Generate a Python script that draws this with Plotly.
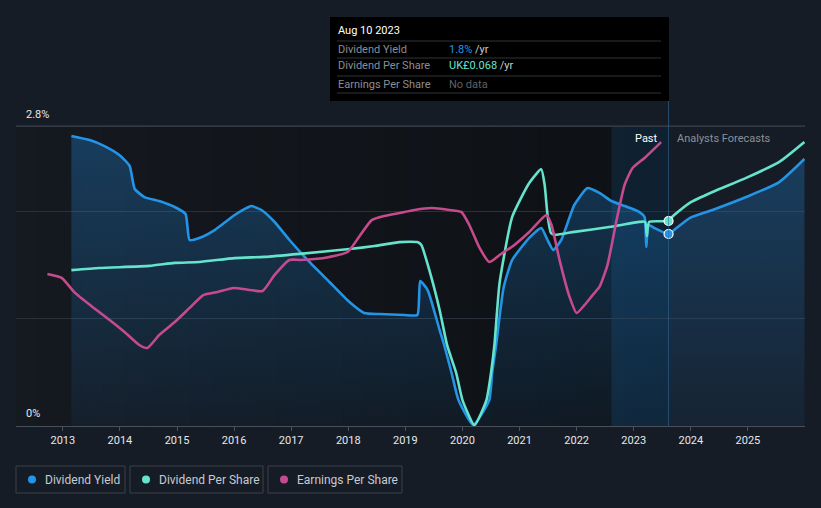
import plotly.graph_objects as go

# ---------------- DATA ----------------
yield_x = [2013.15, 2013.47, 2013.73, 2013.99, 2014.17, 2014.26, 2014.43, 2014.69, 2014.96, 2015.15,
           2015.22, 2015.39, 2015.66, 2016.01, 2016.22, 2016.30, 2016.48, 2016.71, 2016.97, 2017.32,
           2017.67, 2018.02, 2018.28, 2018.55, 2018.98, 2019.21, 2019.26, 2019.39, 2019.60, 2019.68,
           2019.81, 2019.93, 2020.19, 2020.47, 2020.52, 2020.59, 2020.72, 2020.87, 2021.17,
           2021.38, 2021.49, 2021.59, 2021.73, 2021.96, 2022.19, 2022.40, 2022.61, 2022.84, 2023.10,
           2023.19, 2023.22, 2023.26, 2023.36, 2023.61, 2023.75, 2023.98, 2024.38, 2024.97, 2025.55,
           2025.99]
yield_y = [2.707, 2.669, 2.613, 2.529, 2.427, 2.212, 2.137, 2.100, 2.044, 1.979,
           1.736, 1.755, 1.829, 1.969, 2.035, 2.053, 2.016, 1.904, 1.736, 1.531,
           1.344, 1.157, 1.055, 1.045, 1.036, 1.036, 1.353, 1.269, 0.896, 0.756,
           0.495, 0.243, 0.010, 0.243, 0.495, 0.756, 1.290, 1.549, 1.755,
           1.848, 1.736, 1.643, 1.736, 2.063, 2.221, 2.175, 2.100, 2.053, 1.997,
           1.951, 1.671, 1.876, 1.848, 1.792, 1.848, 1.941, 2.016, 2.137, 2.277,
           2.492]

dps_x = [2013.15, 2013.64, 2014.52, 2014.96, 2015.39, 2016.01, 2016.53, 2017.15, 2018.02, 2018.46,
         2018.90, 2019.21, 2019.28, 2019.42, 2019.60, 2019.73, 2019.89, 2020.00, 2020.21,
         2020.42, 2020.50, 2020.56, 2020.65, 2020.87, 2021.17, 2021.38, 2021.44, 2021.49,
         2021.55, 2021.62, 2021.96, 2022.57, 2023.10, 2023.20, 2023.23, 2023.27, 2023.61, 2023.68,
         2023.98, 2024.38, 2024.97, 2025.55, 2025.99]
dps_y = [0.0517, 0.0524, 0.0531, 0.0541, 0.0544, 0.0557, 0.0561, 0.0571, 0.0587, 0.0597,
         0.0610, 0.0610, 0.0600, 0.0517, 0.0385, 0.0269, 0.0176, 0.0086, 0.0003,
         0.0086, 0.0176, 0.0269, 0.0474, 0.0693, 0.0806, 0.0852, 0.0799, 0.0700,
         0.0640, 0.0634, 0.0644, 0.0660, 0.0677, 0.0677, 0.0630, 0.0677, 0.0680, 0.0695,
         0.0740, 0.0776, 0.0823, 0.0876, 0.0942]

eps_x = [2012.73, 2012.98, 2013.20, 2013.50, 2013.82, 2014.08, 2014.34, 2014.48, 2014.69, 2014.96,
         2015.22, 2015.46, 2015.71, 2015.99, 2016.27, 2016.50, 2016.71, 2016.97, 2017.15, 2017.41,
         2017.67, 2017.99, 2018.20, 2018.41, 2018.63, 2018.90, 2019.16, 2019.46, 2019.77, 2019.98,
         2020.12, 2020.30, 2020.47, 2020.65, 2020.91, 2021.17, 2021.47, 2021.56, 2021.70, 2021.87,
         2022.00, 2022.14, 2022.28, 2022.40, 2022.54, 2022.70, 2022.84, 2022.98, 2023.19, 2023.48]
eps_y = [0.0709, 0.0691, 0.0625, 0.0560, 0.0495, 0.0439, 0.0378, 0.0364, 0.0425, 0.0485,
         0.0551, 0.0611, 0.0625, 0.0644, 0.0635, 0.0630, 0.0705, 0.0775, 0.0775, 0.0779,
         0.0789, 0.0812, 0.0887, 0.0961, 0.0980, 0.0994, 0.1008, 0.1017, 0.1008, 0.0999,
         0.0938, 0.0831, 0.0765, 0.0798, 0.0845, 0.0905, 0.0985, 0.0938, 0.0775, 0.0607,
         0.0527, 0.0565, 0.0611, 0.0649, 0.0751, 0.0961, 0.1125, 0.1204, 0.1251, 0.1325]

year_ticks = list(range(2013, 2026))
year_labels = [str(y) for y in year_ticks]
y_labels = ["0%", "2.8%"]
grid_values = [1.0, 2.0, 2.8]
now_x = 2023.61
band_start = 2022.61
cur_yield = 1.792
cur_dps = 0.068

series_names = ["Dividend Yield", "Dividend Per Share", "Earnings Per Share"]
BLUE, TEAL, PINK = "#2394e6", "#66e3cc", "#c64b8e"
colors = [BLUE, TEAL, PINK]

# ---------------- LAYOUT HELPERS ----------------
W, H = 821, 508
L, R, T, B = 16, 16, 100, 82
PW, PH = W - L - R, H - T - B


def px(x):
    return (x - L) / PW


def py(y):
    return (H - B - y) / PH


X0, X1 = 2012.18, 2026.0
Y_TOP = 2.8 * PH / 300.0
DPS_TOP = cur_dps * PH / 205.0
EPS_TOP = 0.14 * PH / 300.0

FONT = "Roboto, 'Open Sans', sans-serif"
LINE_W = 2.6

fig = go.Figure()

fig.add_trace(go.Scatter(
    x=yield_x, y=yield_y, mode="lines", name=series_names[0],
    line=dict(color=BLUE, width=LINE_W, shape="spline", smoothing=0.5),
    fill="tozeroy",
    fillgradient=dict(type="vertical", start=0, stop=2.8,
                      colorscale=[[0, "rgba(33,150,243,0.06)"], [1, "rgba(33,150,243,0.30)"]]),
    hoverinfo="skip", showlegend=False,
))
fig.add_trace(go.Scatter(
    x=dps_x, y=dps_y, mode="lines", name=series_names[1], yaxis="y2",
    line=dict(color=TEAL, width=LINE_W, shape="spline", smoothing=0.5),
    hoverinfo="skip", showlegend=False,
))
fig.add_trace(go.Scatter(
    x=eps_x, y=eps_y, mode="lines", name=series_names[2], yaxis="y3",
    line=dict(color=PINK, width=LINE_W, shape="spline", smoothing=0.5),
    hoverinfo="skip", showlegend=False,
))
# current-point markers
fig.add_trace(go.Scatter(
    x=[now_x], y=[cur_yield], mode="markers",
    marker=dict(color=BLUE, size=9, line=dict(color="white", width=1.2)),
    hoverinfo="skip", showlegend=False,
))
fig.add_trace(go.Scatter(
    x=[now_x], y=[cur_dps], mode="markers", yaxis="y2",
    marker=dict(color=TEAL, size=9, line=dict(color="white", width=1.2)),
    hoverinfo="skip", showlegend=False,
))

shapes = []
# past region background: horizontal gradient in strips, from bottom up to the 2.8% line
N_STRIPS = 30
c_left, c_right = (21, 25, 32), (13, 16, 20)
for i in range(N_STRIPS):
    a = X0 + (now_x - X0) * i / N_STRIPS
    b = X0 + (now_x - X0) * (i + 1) / N_STRIPS
    t = (i + 0.5) / N_STRIPS
    col = tuple(round(c_left[k] + (c_right[k] - c_left[k]) * t) for k in range(3))
    shapes.append(dict(type="rect", xref="x", yref="y", x0=a, x1=b + 0.01, y0=0, y1=2.8,
                       fillcolor="rgb(%d,%d,%d)" % col, line=dict(width=0), layer="below"))
# highlight band (last 12 months)
shapes.append(dict(type="rect", xref="x", yref="y", x0=band_start, x1=now_x, y0=0, y1=2.8,
                   fillcolor="rgba(33,150,243,0.13)", line=dict(width=0), layer="below"))
# brighter top gridline
shapes.append(dict(type="line", xref="x", yref="y", x0=X0, x1=X1, y0=grid_values[-1],
                   y1=grid_values[-1], line=dict(color="#3d434c", width=1), layer="above"))
# now line
shapes.append(dict(type="line", xref="x", yref="paper", x0=now_x, x1=now_x, y0=0, y1=py(101),
                   line=dict(color="rgba(50,110,160,0.6)", width=1)))

annotations = []
# y labels
annotations.append(dict(xref="paper", yref="paper", x=px(24), y=py(115), text=y_labels[1],
                        showarrow=False, xanchor="left", yanchor="middle",
                        font=dict(family=FONT, size=11, color="#e6e8eb")))
annotations.append(dict(xref="paper", yref="paper", x=px(24), y=py(413), text=y_labels[0],
                        showarrow=False, xanchor="left", yanchor="middle",
                        font=dict(family=FONT, size=11, color="#e6e8eb")))
# Past / Analysts Forecasts
annotations.append(dict(xref="paper", yref="paper", x=px(660), y=py(138), text="Past",
                        showarrow=False, xanchor="right", yanchor="middle",
                        font=dict(family=FONT, size=11, color="#ffffff")))
annotations.append(dict(xref="paper", yref="paper", x=px(675), y=py(138), text="Analysts Forecasts",
                        showarrow=False, xanchor="left", yanchor="middle",
                        font=dict(family=FONT, size=11, color="#8b9099")))

# tooltip
shapes.append(dict(type="rect", xref="paper", yref="paper", x0=px(330), x1=px(669),
                   y0=py(101), y1=py(17), fillcolor="#000000", line=dict(width=0)))
for yy in [41, 58, 76, 93]:
    shapes.append(dict(type="line", xref="paper", yref="paper", x0=px(337), x1=px(661),
                       y0=py(yy), y1=py(yy), line=dict(color="#2f343b", width=1)))
annotations.append(dict(xref="paper", yref="paper", x=px(336), y=py(31), text="Aug 10 2023",
                        showarrow=False, xanchor="left", yanchor="middle",
                        font=dict(family=FONT, size=11, color="#ffffff")))
rows = [
    (series_names[0], f"<span style='color:{BLUE}'>1.8%</span> /yr"),
    (series_names[1], f"<span style='color:{TEAL}'>UK£0.068</span> /yr"),
    (series_names[2], "<span style='color:#5d6168'>No data</span>"),
]
for (lab, val), yy in zip(rows, [49, 66, 84]):
    annotations.append(dict(xref="paper", yref="paper", x=px(336), y=py(yy), text=lab,
                            showarrow=False, xanchor="left", yanchor="middle",
                            font=dict(family=FONT, size=11, color="#8a8e95")))
    annotations.append(dict(xref="paper", yref="paper", x=px(447), y=py(yy), text=val,
                            showarrow=False, xanchor="left", yanchor="middle",
                            font=dict(family=FONT, size=11, color="#c9ccd1")))

# legend boxes
boxes = [(16, 125), (130, 263), (268, 402)]
for (bx0, bx1), name, col in zip(boxes, series_names, colors):
    shapes.append(dict(type="rect", xref="paper", yref="paper", x0=px(bx0), x1=px(bx1),
                       y0=py(493), y1=py(466), line=dict(color="#3a4049", width=1),
                       fillcolor="rgba(0,0,0,0)"))
    shapes.append(dict(type="circle", xref="paper", yref="paper",
                       x0=px(bx0 + 12), x1=px(bx0 + 20), y0=py(483.5), y1=py(475.5),
                       fillcolor=col, line=dict(width=0)))
    annotations.append(dict(xref="paper", yref="paper", x=px(bx0 + 27), y=py(479.5), text=name,
                            showarrow=False, xanchor="left", yanchor="middle",
                            font=dict(family=FONT, size=12, color="#c6cad0")))

fig.update_layout(
    width=W, height=H,
    margin=dict(l=L, r=R, t=T, b=B, pad=0),
    paper_bgcolor="#161c26",
    plot_bgcolor="#161c26",
    font=dict(family=FONT, color="#e6e8eb"),
    showlegend=False,
    shapes=shapes,
    annotations=annotations,
    xaxis=dict(range=[X0, X1], tickmode="array", tickvals=year_ticks, ticktext=year_labels,
               showgrid=False, zeroline=False, showline=True, linecolor="#4a5059", linewidth=1,
               ticks="outside", ticklen=4, tickcolor="#4a5059",
               tickfont=dict(family=FONT, size=11, color="#e6e8eb")),
    yaxis=dict(range=[0, Y_TOP], tickmode="array", tickvals=grid_values, showgrid=True,
               gridcolor="#2a313b", gridwidth=1, zeroline=False, showticklabels=False,
               ticks=""),
    yaxis2=dict(range=[0, DPS_TOP], overlaying="y", visible=False),
    yaxis3=dict(range=[0, EPS_TOP], overlaying="y", visible=False),
)

fig.write_html("out.html")
